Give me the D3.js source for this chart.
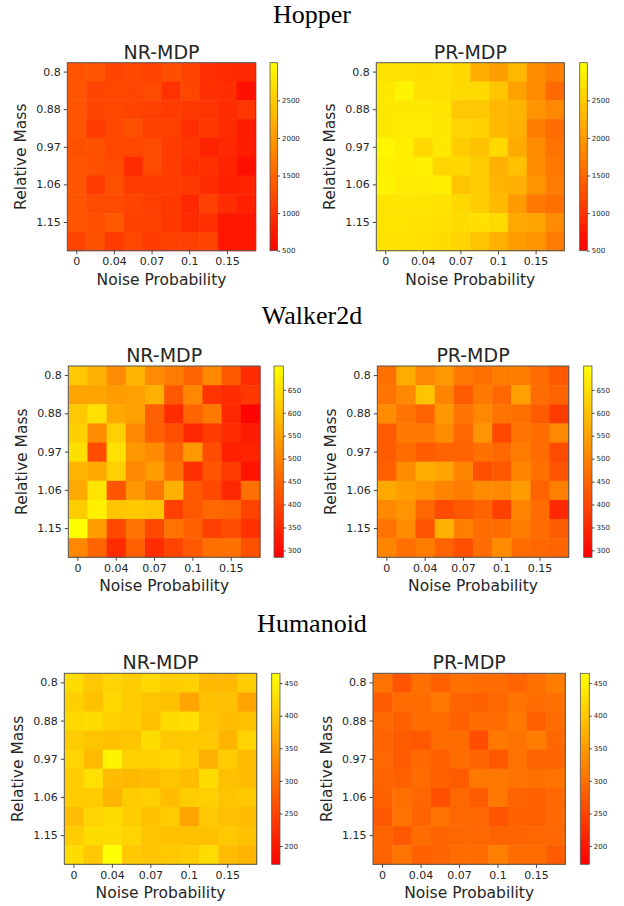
<!DOCTYPE html>
<html><head><meta charset="utf-8">
<script src="https://cdn.jsdelivr.net/npm/d3@7"></script>
<style>
body{margin:0;background:#fff;}
svg{display:block;}
.tick text{font-family:"DejaVu Sans",sans-serif;fill:#262626;}
</style></head>
<body><svg id="chart" width="624" height="906"></svg>
<script>
// ---- data ----
const noiseProbability = ["0","0.02","0.04","0.05","0.07","0.09","0.1","0.12","0.15","0.17"];
const relativeMass = ["0.8","0.84","0.88","0.93","0.97","1.02","1.06","1.11","1.15","1.2"];
const noiseTickLabels = ["0","0.04","0.07","0.1","0.15"];
const massTickLabels = ["0.8","0.88","0.97","1.06","1.15"];

const environments = ["Hopper","Walker2d","Humanoid"];
const methods = ["NR-MDP","PR-MDP"];

const hopperNR = [
 [1330,1320,1180,1210,1170,1260,1170,960,920,900],
 [1330,1190,1200,1190,1240,990,1200,970,950,660],
 [1330,1190,1200,1170,1130,1090,1050,1010,930,1030],
 [1330,1090,1200,1280,1130,1130,970,1050,930,780],
 [1280,1280,1200,1200,1240,1090,1010,850,890,780],
 [1320,1280,1240,930,1240,1090,970,970,850,660],
 [1320,1090,1280,1090,1090,1090,1050,930,810,850],
 [1330,1240,1240,1170,1110,1050,890,1130,930,810],
 [1320,1280,1360,1130,1130,1050,930,970,740,740],
 [1170,1280,1090,1200,1090,1130,1130,1170,740,740]
];
const hopperPR = [
 [2705,2700,2690,2700,2620,2205,2050,2300,1870,1755],
 [2775,2890,2700,2700,2640,2640,2420,2090,1870,1540],
 [2775,2775,2775,2735,2460,2460,2300,2265,1950,1830],
 [2775,2810,2810,2755,2580,2560,2320,2225,1715,1560],
 [2910,2830,2620,2775,2500,2400,2620,2165,1870,1640],
 [2850,2830,2850,2600,2620,2500,2225,2380,1870,1675],
 [2890,2810,2810,2830,2420,2500,2265,2225,1950,1715],
 [2735,2755,2735,2715,2620,2500,2320,2010,1675,1600],
 [2735,2735,2715,2700,2660,2700,2640,2145,2110,1870],
 [2715,2715,2700,2660,2580,2420,2225,2030,1950,1715]
];
const walkerNR = [
 [612,573,514,579,514,488,449,507,429,357],
 [553,553,540,547,573,429,507,370,357,377],
 [612,651,560,547,442,357,449,481,350,292],
 [625,514,625,507,442,416,350,383,357,331],
 [651,409,651,534,514,449,534,409,337,344],
 [579,560,625,507,540,468,363,422,383,318],
 [560,658,422,534,481,573,429,403,350,468],
 [619,677,605,612,605,390,429,455,449,396],
 [702,540,403,475,403,475,442,390,409,363],
 [507,449,357,442,357,396,429,468,468,416]
];
const walkerPR = [
 [468,566,507,534,481,468,488,488,462,429],
 [475,507,605,501,435,481,455,547,462,449],
 [514,475,449,534,475,507,475,468,435,383],
 [435,481,481,514,455,527,403,475,462,507],
 [435,462,435,449,449,468,455,488,462,409],
 [442,514,566,553,501,416,429,501,468,422],
 [560,540,527,501,488,514,507,540,449,494],
 [507,527,455,409,429,449,390,501,462,350],
 [475,514,422,573,494,462,462,488,462,435],
 [501,468,488,449,416,462,514,462,455,449]
];
const humanoidNR = [
 [425,402,416,406,420,406,411,383,383,406],
 [411,393,420,406,397,393,360,393,393,360],
 [420,425,411,406,393,425,429,397,388,393],
 [406,397,393,397,425,402,402,402,379,416],
 [416,388,452,411,411,420,406,374,406,388],
 [406,429,388,383,388,397,388,425,393,388],
 [406,406,379,406,411,388,406,411,397,402],
 [388,416,425,406,393,406,360,402,393,388],
 [406,425,425,416,397,393,393,393,402,393],
 [425,402,465,402,397,402,406,425,388,379]
];
const humanoidPR = [
 [305,268,301,282,301,296,296,287,301,314],
 [278,296,296,310,287,282,291,305,296,301],
 [291,282,296,296,282,296,296,310,282,296],
 [287,278,273,296,296,259,310,305,314,291],
 [291,278,291,282,296,287,273,305,287,287],
 [287,282,296,282,278,310,310,305,301,305],
 [282,301,291,264,291,278,310,287,282,291],
 [273,305,287,305,291,291,268,282,282,291],
 [287,273,296,287,291,291,287,287,291,291],
 [287,305,282,287,296,296,319,296,296,278]
];
const hopperColorRange = [500, 3000];
const walkerColorRange = [285, 702];
const humanoidColorRange = [172, 465];
const hopperColorTicks = [500,1000,1500,2000,2500];
const walkerColorTicks = [300,350,400,450,500,550,600,650];
const humanoidColorTicks = [200,250,300,350,400,450];

// ---- layout (not data) ----
const sections = [
  {title: environments[0], titleY: 23, range: hopperColorRange, cticks: hopperColorTicks,
   panels: [
    {name: methods[0], data: hopperNR, x: 67.3, y: 62.7, w: 188.4, h: 188, cx: 270, cw: 7.5},
    {name: methods[1], data: hopperPR, x: 376.3, y: 62.7, w: 188, h: 188, cx: 579.7, cw: 7.6}]},
  {title: environments[1], titleY: 324, range: walkerColorRange, cticks: walkerColorTicks,
   panels: [
    {name: methods[0], data: walkerNR, x: 68.3, y: 366, w: 191.7, h: 191.3, cx: 274, cw: 9.3},
    {name: methods[1], data: walkerPR, x: 377.3, y: 366, w: 191.4, h: 191.3, cx: 583.7, cw: 8.3}]},
  {title: environments[2], titleY: 632, range: humanoidColorRange, cticks: humanoidColorTicks,
   panels: [
    {name: methods[0], data: humanoidNR, x: 64.3, y: 673.3, w: 192.4, h: 191, cx: 271.7, cw: 8.3},
    {name: methods[1], data: humanoidPR, x: 373, y: 673.3, w: 192.3, h: 191, cx: 580.3, cw: 9}]}
];

const svg = d3.select("#chart");
const defs = svg.append("defs");
const grad = defs.append("linearGradient").attr("id","autumn")
  .attr("x1","0").attr("y1","1").attr("x2","0").attr("y2","0");
grad.append("stop").attr("offset","0").attr("stop-color","#ff0000");
grad.append("stop").attr("offset","1").attr("stop-color","#ffff00");

sections.forEach(sec => {
  svg.append("text").attr("x", 312).attr("y", sec.titleY)
    .attr("text-anchor","middle")
    .style("font-family","'Liberation Serif','Times New Roman',serif")
    .style("font-size","26px").style("fill","#000").text(sec.title);

  const color = d3.scaleLinear().domain(sec.range).range(["#ff0000","#ffff00"]).clamp(true);

  sec.panels.forEach(p => {
    const g = svg.append("g");
    const x = d3.scaleBand().domain(noiseProbability).range([p.x, p.x + p.w]);
    const y = d3.scaleBand().domain(relativeMass).range([p.y, p.y + p.h]);

    const cells = [];
    p.data.forEach((row, ri) => row.forEach((v, ci) => cells.push({m: relativeMass[ri], n: noiseProbability[ci], v})));
    g.selectAll("rect.cell").data(cells).enter().append("rect")
      .attr("class","cell")
      .attr("x", d => x(d.n)).attr("y", d => y(d.m))
      .attr("width", x.bandwidth() + 0.5).attr("height", y.bandwidth() + 0.5)
      .attr("fill", d => color(d.v));
    g.append("rect").attr("x", p.x).attr("y", p.y).attr("width", p.w).attr("height", p.h)
      .attr("fill","none").attr("stroke","#555").attr("stroke-width",1);

    const xAxis = g.append("g").attr("transform", `translate(0,${p.y + p.h})`)
      .call(d3.axisBottom(x).tickValues(noiseProbability.filter(d => noiseTickLabels.includes(d)))
        .tickSize(3.5).tickPadding(3));
    xAxis.select(".domain").remove();
    xAxis.selectAll(".tick line").attr("stroke","#444");
    xAxis.selectAll(".tick text").style("font-size","11px");

    const yAxis = g.append("g").attr("transform", `translate(${p.x},0)`)
      .call(d3.axisLeft(y).tickValues(relativeMass.filter(d => massTickLabels.includes(d)))
        .tickSize(3.5).tickPadding(3));
    yAxis.select(".domain").remove();
    yAxis.selectAll(".tick line").attr("stroke","#444");
    yAxis.selectAll(".tick text").style("font-size","11px");

    g.append("text").attr("x", p.x + p.w/2).attr("y", p.y - 4)
      .attr("text-anchor","middle")
      .style("font-family","'DejaVu Sans',sans-serif").style("font-size","19px").style("fill","#262626")
      .text(p.name);
    g.append("text").attr("x", p.x + p.w/2).attr("y", p.y + p.h + 34)
      .attr("text-anchor","middle")
      .style("font-family","'DejaVu Sans',sans-serif").style("font-size","15.5px").style("fill","#262626")
      .text("Noise Probability");
    g.append("text").attr("transform", `translate(${p.x - 41},${p.y + p.h/2}) rotate(-90)`)
      .attr("text-anchor","middle")
      .style("font-family","'DejaVu Sans',sans-serif").style("font-size","15.5px").style("fill","#262626")
      .text("Relative Mass");

    // colorbar
    const cs = d3.scaleLinear().domain(sec.range).range([p.y + p.h, p.y]);
    g.append("rect").attr("x", p.cx).attr("y", p.y).attr("width", p.cw).attr("height", p.h)
      .attr("fill","url(#autumn)").attr("stroke","#555").attr("stroke-width",0.8);
    const cAxis = g.append("g").attr("transform", `translate(${p.cx + p.cw},0)`)
      .call(d3.axisRight(cs).tickValues(sec.cticks).tickFormat(d3.format("d")).tickSize(2.5).tickPadding(2));
    cAxis.select(".domain").remove();
    cAxis.selectAll(".tick line").attr("stroke","#444");
    cAxis.selectAll(".tick text").style("font-size","7px");
  });
});
</script>
</body></html>
